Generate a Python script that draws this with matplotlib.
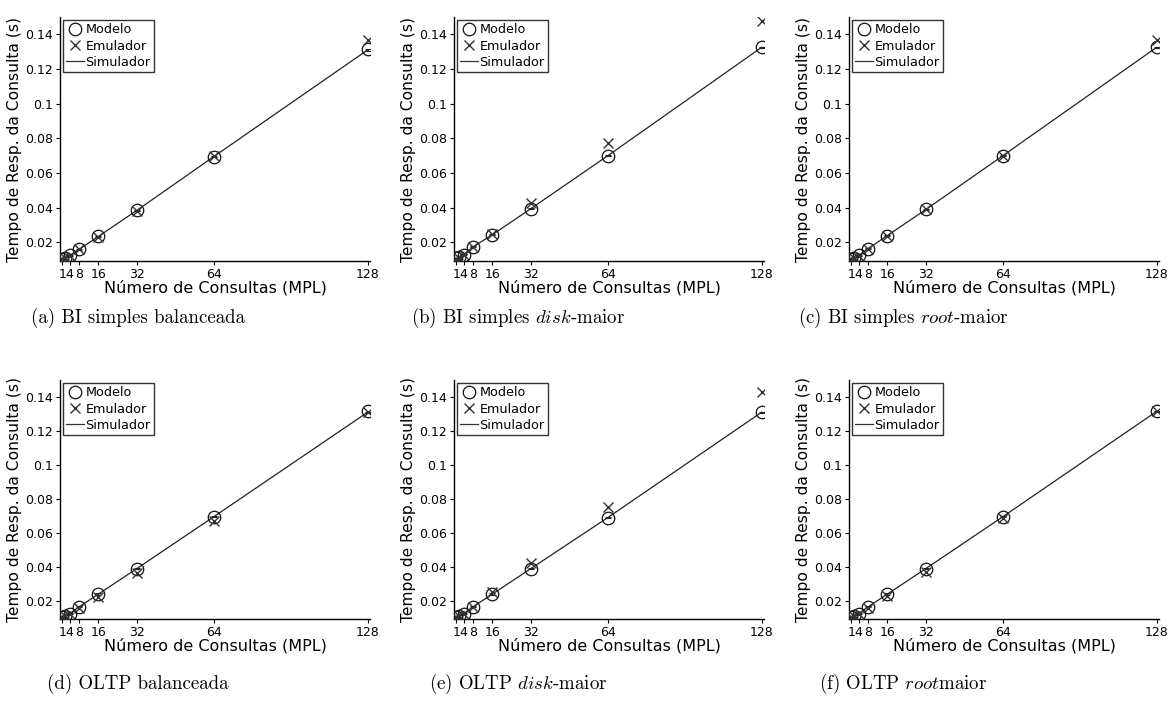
import matplotlib
matplotlib.use("Agg")
import matplotlib.pyplot as plt
from matplotlib.lines import Line2D

plt.rcParams['mathtext.fontset'] = 'cm'

mpl_x = [1, 2, 4, 8, 16, 32, 64, 128]

captions = [
    r'(a) BI simples balanceada',
    r'(b) BI simples $\mathit{disk}$-maior',
    r'(c) BI simples $\mathit{root}$-maior',
    r'(d) OLTP balanceada',
    r'(e) OLTP $\mathit{disk}$-maior',
    r'(f) OLTP $\mathit{root}$maior',
]

modelo_a = [0.0105, 0.011, 0.0125, 0.016, 0.0235, 0.0385, 0.069, 0.1315]
emul_a   = [0.0105, 0.011, 0.012, 0.016, 0.023, 0.038, 0.070, 0.137]
sim_a    = [0.0105, 0.011, 0.0125, 0.016, 0.0235, 0.0385, 0.0695, 0.131]

modelo_b = [0.011, 0.0115, 0.013, 0.0175, 0.0245, 0.0395, 0.070, 0.1325]
emul_b   = [0.0105, 0.011, 0.013, 0.0175, 0.025, 0.0425, 0.0775, 0.1475]
sim_b    = [0.0105, 0.011, 0.013, 0.0175, 0.0245, 0.0395, 0.070, 0.1325]

modelo_c = [0.0105, 0.011, 0.0125, 0.0165, 0.024, 0.039, 0.070, 0.1325]
emul_c   = [0.0105, 0.011, 0.012, 0.0165, 0.0235, 0.039, 0.070, 0.137]
sim_c    = [0.0105, 0.011, 0.0125, 0.0165, 0.024, 0.039, 0.070, 0.1325]

modelo_d = [0.0105, 0.011, 0.0125, 0.0165, 0.024, 0.039, 0.0695, 0.132]
emul_d   = [0.0105, 0.011, 0.012, 0.016, 0.022, 0.0365, 0.067, 0.131]
sim_d    = [0.0105, 0.011, 0.0125, 0.0165, 0.024, 0.039, 0.0695, 0.131]

modelo_e = [0.0105, 0.011, 0.0125, 0.0165, 0.024, 0.039, 0.069, 0.131]
emul_e   = [0.0105, 0.011, 0.0125, 0.0165, 0.025, 0.042, 0.0755, 0.143]
sim_e    = [0.0105, 0.011, 0.0125, 0.0165, 0.024, 0.039, 0.069, 0.131]

modelo_f = [0.0105, 0.011, 0.0125, 0.0165, 0.024, 0.039, 0.0695, 0.1315]
emul_f   = [0.0105, 0.011, 0.012, 0.016, 0.023, 0.037, 0.069, 0.1315]
sim_f    = [0.0105, 0.011, 0.0125, 0.0165, 0.024, 0.039, 0.0695, 0.1315]

modelos = [modelo_a, modelo_b, modelo_c, modelo_d, modelo_e, modelo_f]
emuls = [emul_a, emul_b, emul_c, emul_d, emul_e, emul_f]
sims = [sim_a, sim_b, sim_c, sim_d, sim_e, sim_f]

xticks = [1, 4, 8, 16, 32, 64, 128]
yticks = [0.02, 0.04, 0.06, 0.08, 0.1, 0.12, 0.14]
ytick_labels = ['0.02', '0.04', '0.06', '0.08', '0.1', '0.12', '0.14']

W, H = 1172, 702
fig = plt.figure(figsize=(W / 100, H / 100), dpi=100)

col_lefts = [60, 454, 849]
col_rights = [370, 764, 1159]
row_tb = [(17, 261), (380, 619)]
cap_x = [138, 518, 903]
cap_y = [318, 684]

for i in range(6):
    r, c = divmod(i, 3)
    l, rr = col_lefts[c], col_rights[c]
    t, b = row_tb[r]
    ax = fig.add_axes([l / W, 1 - b / H, (rr - l) / W, (b - t) / H])
    ax.errorbar(mpl_x, sims[i], yerr=0.0004, color='#222222', lw=0.9,
                capsize=2.5, elinewidth=0.8, capthick=0.8, zorder=2,
                label='_nolegend_')
    hm, = ax.plot(mpl_x, modelos[i], 'o', mfc='none', mec='#111111',
                  ms=9, mew=0.9, linestyle='none', zorder=3)
    he, = ax.plot(mpl_x, emuls[i], 'x', color='#333333', ms=7, mew=1.0,
                  linestyle='none', zorder=3)
    hs = Line2D([], [], color='#333333', lw=0.9)
    leg = ax.legend([hm, he, hs], ['Modelo', 'Emulador', 'Simulador'],
                    loc='upper left', fontsize=9.2, frameon=True, fancybox=False,
                    borderpad=0.25, labelspacing=0.25, handlelength=1.4,
                    handletextpad=0.1, borderaxespad=0.25)
    leg.get_frame().set_edgecolor('black')
    leg.get_frame().set_linewidth(1.0)
    ax.set_xlim(0, 129)
    ax.set_ylim(0.0093, 0.15)
    ax.set_xticks(xticks)
    ax.set_xticklabels([str(v) for v in xticks])
    ax.set_yticks(yticks)
    ax.set_yticklabels(ytick_labels)
    ax.tick_params(direction='out', length=3, width=0.8, labelsize=9, pad=2)
    ax.spines['top'].set_visible(False)
    ax.spines['right'].set_visible(False)
    ax.spines['left'].set_linewidth(1.0)
    ax.spines['bottom'].set_linewidth(1.0)
    ax.set_xlabel('Número de Consultas (MPL)', fontsize=11.5, labelpad=-1)
    ax.set_ylabel('Tempo de Resp. da Consulta (s)', fontsize=11.2, labelpad=2)
    fig.text(cap_x[c] / W, 1 - cap_y[r] / H, captions[i], family='cmr10',
             fontsize=13.6, ha='center', va='center')

fig.savefig('out.png', dpi=100)
